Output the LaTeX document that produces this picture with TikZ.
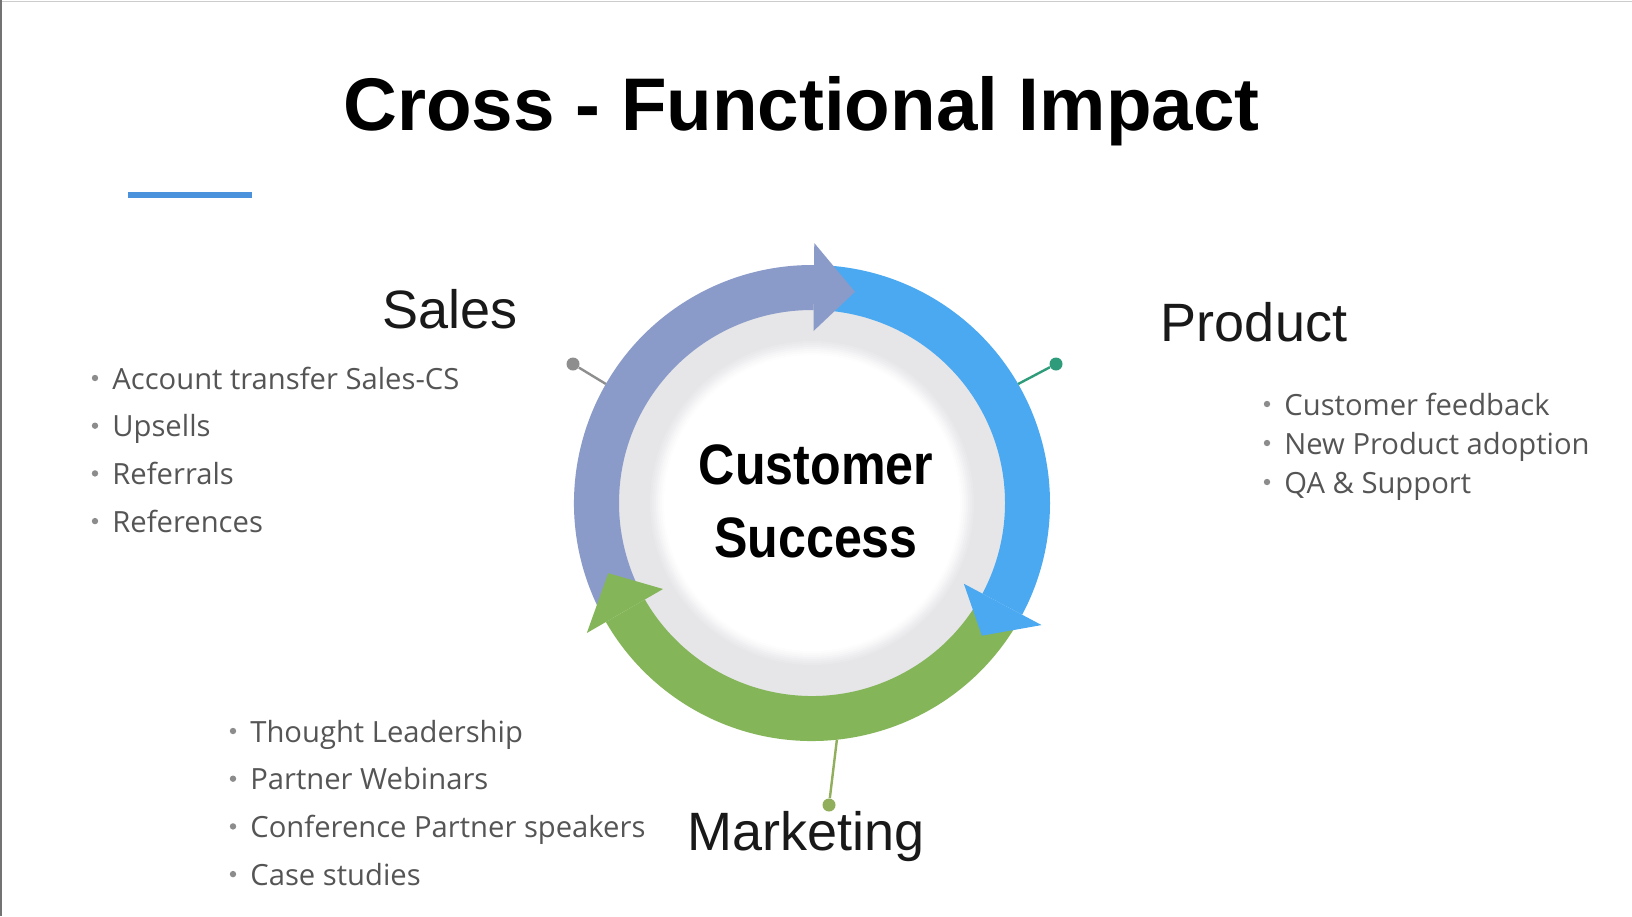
\documentclass[tikz,border=0pt]{standalone}
\usepackage{fontspec}
\setmainfont{Liberation Sans}
\newfontfamily\bodyfont{Open Sans}
\newfontfamily\csfont[FakeStretch=0.88]{Liberation Sans}
\usetikzlibrary{calc}
\definecolor{purp}{HTML}{8A9BC9}
\definecolor{sky}{HTML}{4BA9F1}
\definecolor{leaf}{HTML}{85B559}
\definecolor{ringgray}{HTML}{E6E6E9}
\definecolor{txtgray}{HTML}{555555}
\definecolor{bulgray}{HTML}{8C8C8C}
\definecolor{rulecol}{HTML}{4A92DC}
\definecolor{dotgray}{HTML}{8E8E8E}
\definecolor{dotteal}{HTML}{2E9C7A}
\definecolor{dotolive}{HTML}{90AE5C}
\newcommand\ringseg[3]{\fill[#1] ($(C)+(#2:119pt)$) arc[start angle=#2, end angle=#3, radius=119pt] -- ($(C)+(#3:96.5pt)$) arc[start angle=#3, end angle=#2, radius=96.5pt] -- cycle;}
\newcommand\ringhead[3]{\fill[#1] ($(C)+(#2:130pt)$) -- ($(C)+(#3:107.75pt)$) -- ($(C)+(#2:86pt)$) -- cycle;}
\begin{document}
\begin{tikzpicture}[x=0.5pt,y=0.5pt,
  titletext/.style={inner sep=0pt, anchor=base west, font=\fontsize{37.3pt}{40pt}\selectfont\bfseries},
  labeltext/.style={inner sep=0pt, anchor=base, font=\fontsize{27pt}{30pt}\selectfont, text=black!90},
  cstext/.style={inner sep=0pt, anchor=base, font=\csfont\bfseries\fontsize{28.5pt}{30pt}\selectfont},
  itemtext/.style={inner sep=0pt, anchor=base west, font=\bodyfont\fontsize{14.6pt}{16pt}\selectfont, text=txtgray},
  bulletdot/.style={circle, fill=bulgray, inner sep=0pt, minimum size=3.2pt},
  pindot/.style={circle, inner sep=0pt, minimum size=6.5pt},
  pinline/.style={line width=1.2pt},
]
\useasboundingbox (0,0) rectangle (1632,-916);
\fill[white] (0,0) rectangle (1632,-916);
\draw[line width=0.5pt, black!20] (0,-1) -- (1632,-1);
\draw[line width=1pt, black!55] (1,0) -- (1,-916);

% title and rule
\node[titletext] (title) at (343,-130) {Cross - Functional Impact};
\coordinate (ruleA) at (128,-195);
\coordinate (ruleB) at (252,-195);
\draw[rulecol, line width=3pt] (ruleA) -- (ruleB);

% ring
\coordinate (C) at (812,-503);
\fill[ringgray] (C) circle[radius=100pt];
\foreach \r/\c in {81/88, 80/76, 79/62, 78/48, 77/34, 76/20, 75/8, 74/0}{
  \fill[ringgray!\c!white] (C) circle[radius=\r pt];
}
\ringseg{purp}{208}{89.5}
\ringseg{sky}{86}{-28}
\ringseg{leaf}{-31}{-150}
\ringhead{purp}{89.5}{78.5}
\ringhead{sky}{-28}{-38}
\ringhead{leaf}{210}{199}

% pins
\coordinate (sEdge) at ($(C)+(150:119pt)$);
\coordinate (pEdge) at ($(C)+(30:119pt)$);
\coordinate (mEdge) at ($(C)+(-84:119pt)$);
\node[pindot, fill=dotgray] (sDot) at (573,-364) {};
\node[pindot, fill=dotteal] (pDot) at (1056,-364) {};
\node[pindot, fill=dotolive] (mDot) at (829,-805) {};
\draw[dotgray, pinline] (sEdge) -- (sDot);
\draw[dotteal, pinline] (pEdge) -- (pDot);
\draw[dotolive, pinline] (mEdge) -- (mDot);

% labels
\node[labeltext] (sales) at (450,-328) {Sales};
\node[labeltext] (product) at (1254,-341) {Product};
\node[labeltext] (marketing) at (806,-850) {Marketing};
\node[cstext] (cs1) at (816,-484) {Customer};
\node[cstext] (cs2) at (816,-557) {Success};

% lists
\foreach \t [count=\i, evaluate=\i as \y using -389-(\i-1)*47.7] in {Account transfer Sales-CS, Upsells, Referrals, References}{
  \node[bulletdot] (sb\i) at (95,\y+11) {};
  \node[itemtext] (sl\i) at (112,\y) {\t};
}
\foreach \t [count=\i, evaluate=\i as \y using -415-(\i-1)*39] in {Customer feedback, New Product adoption, QA \& Support}{
  \node[bulletdot] (pb\i) at (1267,\y+11) {};
  \node[itemtext] (pl\i) at (1284,\y) {\t};
}
\foreach \t [count=\i, evaluate=\i as \y using -742-(\i-1)*47.7] in {Thought Leadership, Partner Webinars, Conference Partner speakers, Case studies}{
  \node[bulletdot] (mb\i) at (233,\y+11) {};
  \node[itemtext] (ml\i) at (250,\y) {\t};
}
\end{tikzpicture}
\end{document}
